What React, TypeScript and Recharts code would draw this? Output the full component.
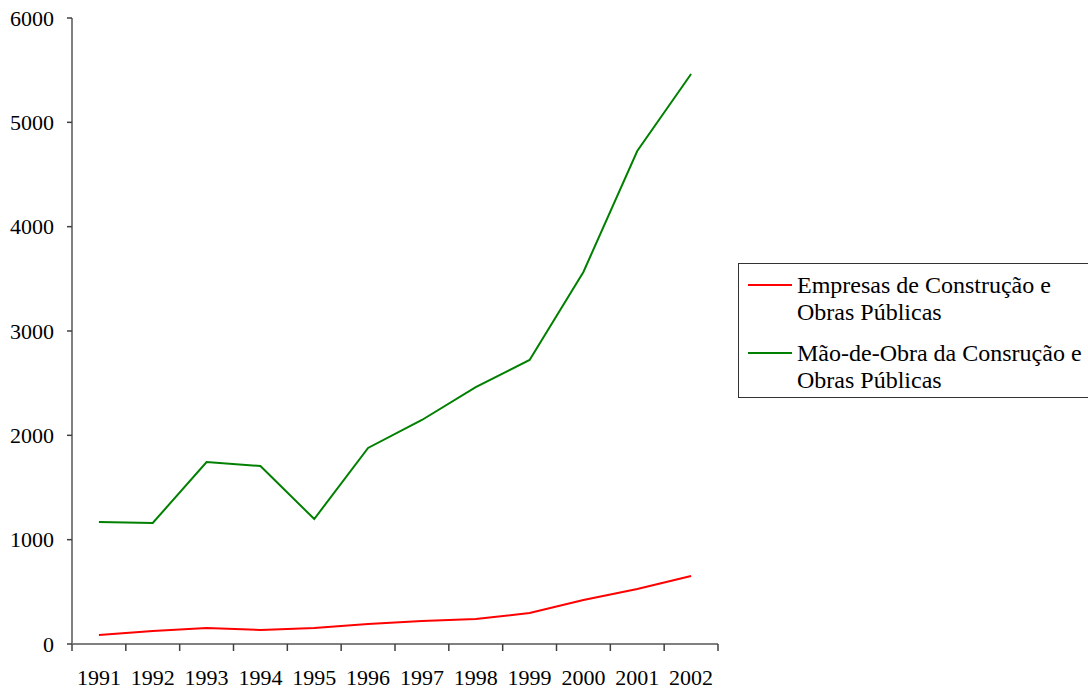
import { Line, LineChart, XAxis, YAxis } from "recharts";

const years = [1991, 1992, 1993, 1994, 1995, 1996, 1997, 1998, 1999, 2000, 2001, 2002];
const empresas = [86, 125, 153, 134, 153, 192, 220, 240, 297, 422, 527, 652];
const maoDeObra = [1170, 1160, 1744, 1706, 1198, 1879, 2147, 2463, 2722, 3566, 4725, 5463];
const yTicks = [0, 1000, 2000, 3000, 4000, 5000, 6000];
const seriesNames = [
  "Empresas de Construção e Obras Públicas",
  "Mão-de-Obra da Consrução e Obras Públicas",
];
const seriesColors = ["#ff0000", "#008000"];

const data = years.map((year, i) => ({
  year,
  empresas: empresas[i],
  mao: maoDeObra[i],
}));

// tick marks sit between the categories, labels in the middle
const boundaryTicks = years.map((y) => y - 0.5).concat(years[years.length - 1] + 0.5);
const xDomain = [years[0] - 0.5, years[years.length - 1] + 0.5];

const font = "Liberation Serif, Times New Roman, serif";

function BoundaryMark(props: any) {
  const { x, y } = props;
  return <line x1={x} x2={x} y1={y} y2={y + 7} stroke="#404040" strokeWidth={1.5} />;
}

export default function App() {
  return (
    <div
      style={{
        position: "absolute",
        left: 0,
        top: 0,
        width: 1088,
        height: 690,
        overflow: "hidden",
        background: "#fff",
        fontFamily: font,
      }}
    >
      <LineChart
        width={1088}
        height={690}
        data={data}
        margin={{ top: 18, right: 370, bottom: 0, left: 0 }}
      >
        <XAxis
          xAxisId={0}
          dataKey="year"
          type="number"
          domain={xDomain}
          ticks={boundaryTicks}
          interval={0}
          height={1}
          tickLine={false}
          axisLine={{ stroke: "#808080", strokeWidth: 2 }}
          tickSize={0}
          tickMargin={0}
          tick={<BoundaryMark />}
        />
        <XAxis
          xAxisId={1}
          dataKey="year"
          type="number"
          domain={xDomain}
          ticks={years}
          interval={0}
          height={45}
          tickLine={false}
          axisLine={false}
          tickSize={0}
          tickMargin={24}
          tick={{ fill: "#000", fontSize: 22, fontFamily: font }}
        />
        <YAxis
          domain={[0, 6000]}
          ticks={yTicks}
          interval={0}
          width={72}
          tickSize={5}
          tickMargin={13}
          tickLine={{ stroke: "#404040", strokeWidth: 1.5 }}
          axisLine={{ stroke: "#808080", strokeWidth: 2 }}
          tick={{ fill: "#000", fontSize: 22, fontFamily: font }}
        />
        <Line
          xAxisId={1}
          dataKey="empresas"
          name={seriesNames[0]}
          stroke={seriesColors[0]}
          strokeWidth={2}
          dot={false}
          type="linear"
          isAnimationActive={false}
        />
        <Line
          xAxisId={1}
          dataKey="mao"
          name={seriesNames[1]}
          stroke={seriesColors[1]}
          strokeWidth={2}
          dot={false}
          type="linear"
          isAnimationActive={false}
        />
      </LineChart>
      <div
        style={{
          position: "absolute",
          left: 738,
          top: 263,
          width: 370,
          height: 135,
          boxSizing: "border-box",
          border: "1px solid #333",
          paddingTop: 8,
          background: "#fff",
        }}
      >
        {seriesNames.map((name, i) => (
          <div
            key={name}
            style={{ display: "flex", alignItems: "flex-start", marginBottom: 14 }}
          >
            <div
              style={{
                width: 44,
                height: 2,
                marginLeft: 9,
                marginTop: 12,
                background: seriesColors[i],
              }}
            />
            <div
              style={{
                marginLeft: 5,
                width: 300,
                fontSize: 24,
                lineHeight: "27px",
                color: "#000",
              }}
            >
              {name}
            </div>
          </div>
        ))}
      </div>
    </div>
  );
}
